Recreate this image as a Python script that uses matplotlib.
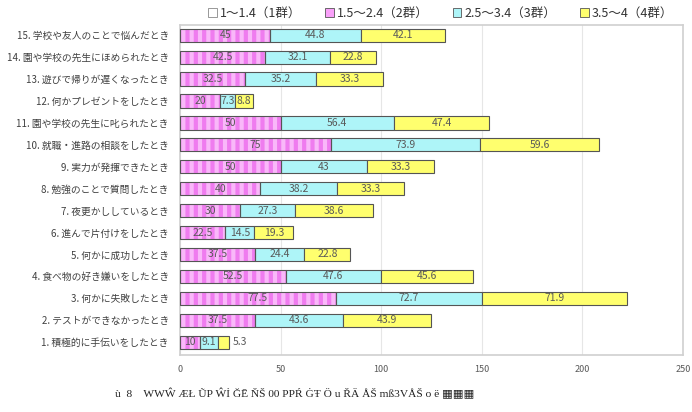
import matplotlib.pyplot as plt
from matplotlib.patches import Patch

plt.rcParams['font.family'] = ['Noto Sans CJK JP', 'DejaVu Sans']
plt.rcParams['hatch.linewidth'] = 3.0

# rows from bottom (1.) to top (15.)
items = [
    "1. 積極的に手伝いをしたとき",
    "2. テストができなかったとき",
    "3. 何かに失敗したとき",
    "4. 食べ物の好き嫌いをしたとき",
    "5. 何かに成功したとき",
    "6. 進んで片付けをしたとき",
    "7. 夜更かししているとき",
    "8. 勉強のことで質問したとき",
    "9. 実力が発揮できたとき",
    "10. 就職・進路の相談をしたとき",
    "11. 園や学校の先生に叱られたとき",
    "12. 何かプレゼントをしたとき",
    "13. 遊びで帰りが遅くなったとき",
    "14. 園や学校の先生にほめられたとき",
    "15. 学校や友人のことで悩んだとき",
]
group1 = [0, 0, 0, 0, 0, 0, 0, 0, 0, 0, 0, 0, 0, 0, 0]
group2 = [10, 37.5, 77.5, 52.5, 37.5, 22.5, 30, 40, 50, 75, 50, 20, 32.5, 42.5, 45]
group3 = [9.1, 43.6, 72.7, 47.6, 24.4, 14.5, 27.3, 38.2, 43, 73.9, 56.4, 7.3, 35.2, 32.1, 44.8]
group4 = [5.3, 43.9, 71.9, 45.6, 22.8, 19.3, 38.6, 33.3, 33.3, 59.6, 47.4, 8.8, 33.3, 22.8, 42.1]
series_names = ["1～1.4（1群）", "1.5～2.4（2群）", "2.5～3.4（3群）", "3.5～4（4群）"]
xticks = [0, 50, 100, 150, 200, 250]

fig = plt.figure(figsize=(6.92, 4.12), dpi=100)
ax = fig.add_axes([0.26, 0.138, 0.727, 0.801])

y = list(range(1, len(items) + 1))
h = 0.6
edge = '#555555'
txt = '#595959'

left = [0] * len(y)
ax.barh(y, group1, height=h, left=left, color='white', edgecolor=edge, linewidth=0.8, zorder=3)
left = [a + b for a, b in zip(left, group1)]

# pink with vertical stripes
ax.barh(y, group2, height=h, left=left, color='#f9b8f9', edgecolor='#ef7cef',
        hatch='||', linewidth=0, zorder=3)
ax.barh(y, group2, height=h, left=left, fill=False, edgecolor=edge, linewidth=0.8, zorder=4)
for yy, l, v in zip(y, left, group2):
    ax.text(l + v / 2, yy, f"{v:g}", ha='center', va='center', fontsize=7.5, color=txt, zorder=5)
left = [a + b for a, b in zip(left, group2)]

ax.barh(y, group3, height=h, left=left, color='#aef5f8', edgecolor=edge, linewidth=0.8, zorder=3)
for yy, l, v in zip(y, left, group3):
    ax.text(l + v / 2, yy, f"{v:g}", ha='center', va='center', fontsize=7.5, color=txt, zorder=5)
left = [a + b for a, b in zip(left, group3)]

ax.barh(y, group4, height=h, left=left, color='#ffff6e', edgecolor=edge, linewidth=0.8, zorder=3)
for yy, l, v in zip(y, left, group4):
    if v < 6:
        ax.text(l + v + 2, yy, f"{v:g}", ha='left', va='center', fontsize=7.5, color=txt, zorder=5)
    else:
        ax.text(l + v / 2, yy, f"{v:g}", ha='center', va='center', fontsize=7.5, color=txt, zorder=5)

ax.set_xlim(0, 250)
ax.set_ylim(0.41, 15.46)
ax.set_xticks(xticks)
ax.set_xticklabels([str(t) for t in xticks], fontsize=6.5, color=txt)
ax.set_yticks(y)
ax.set_yticklabels(items, fontsize=7.0, color='#404040')
ax.tick_params(axis='both', length=0)
ax.tick_params(axis='y', pad=8)
ax.tick_params(axis='x', pad=7)
ax.grid(axis='x', color='#e6e6e6', linewidth=0.8, zorder=0)
for s in ax.spines.values():
    s.set_color('#d0d0d0')
    s.set_linewidth(1.2)

handles = [
    Patch(facecolor='white', edgecolor='#888888', linewidth=0.6),
    Patch(facecolor='#f9a0f9', edgecolor=edge, linewidth=0.6),
    Patch(facecolor='#aef5f8', edgecolor=edge, linewidth=0.6),
    Patch(facecolor='#ffff6e', edgecolor=edge, linewidth=0.6),
]
fig.legend(handles, series_names, loc='center', bbox_to_anchor=(0.637, 0.968), ncol=4,
           frameon=False, fontsize=9, handlelength=0.7, handleheight=0.7,
           handletextpad=0.25, columnspacing=1.9, labelcolor='#333333')

fig.text(0.426, 0.045, "ù  8    WWŴ ÆŁ ŨP Ŵİ ĞĒ ŇŠ 00 PPŔ ĠŦ Ö u ŘÄ ÅŠ mß3VÅŠ o ë ▦▦▦",
         ha='center', va='center', fontsize=8.2, family=['Liberation Serif', 'DejaVu Serif'],
         color='#222222')

fig.savefig('out.png', dpi=100)
